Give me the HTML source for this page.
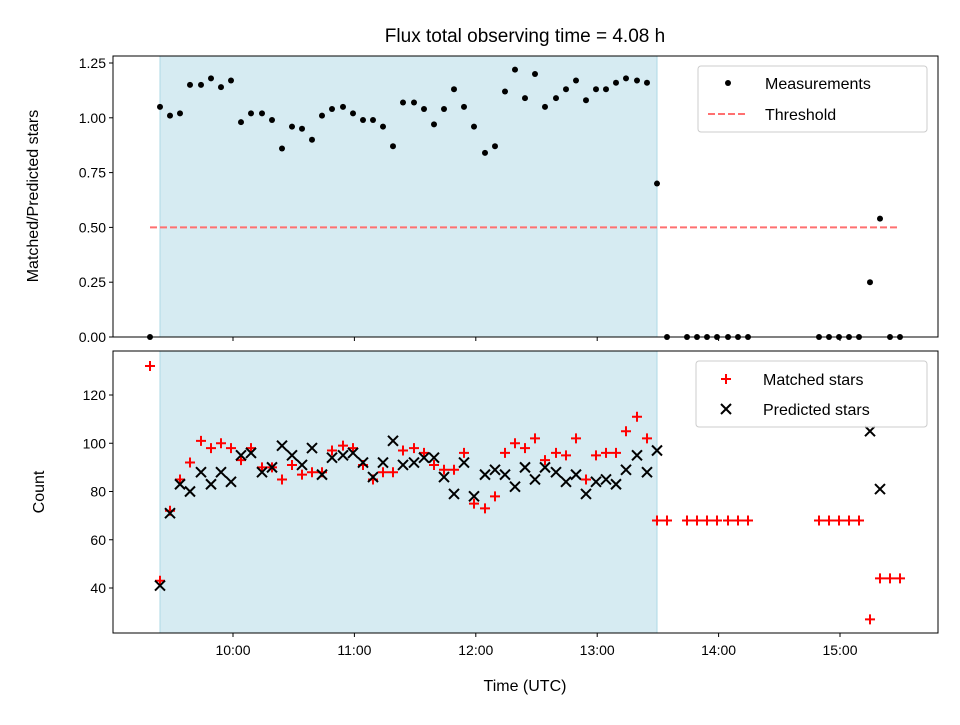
<!DOCTYPE html>
<html><head><meta charset="utf-8"><style>
body{margin:0;background:#fff;}
svg text{font-family:"Liberation Sans","DejaVu Sans",sans-serif;fill:#000;}
</style></head><body>
<svg id="chart" width="960" height="720" xmlns="http://www.w3.org/2000/svg"></svg>
<script>
const xPix=[150,160,170,180,190,201,211,221,231,241,251,262,272,282,292,302,312,322,332,343,353,363,373,383,393,403,414,424,434,444,454,464,474,485,495,505,515,525,535,545,556,566,576,586,596,606,616,626,637,647,657,667,687,697,707,717,728,738,748,819,829,839,849,859,870,880,890,900];
const times=xPix.map(x=>10+(x-233)/121.4);
const ratio=[0,1.05,1.01,1.02,1.15,1.15,1.18,1.14,1.17,0.98,1.02,1.02,0.99,0.86,0.96,0.95,0.90,1.01,1.04,1.05,1.02,0.99,0.99,0.96,0.87,1.07,1.07,1.04,0.97,1.04,1.13,1.05,0.96,0.84,0.87,1.12,1.22,1.09,1.20,1.05,1.09,1.13,1.17,1.08,1.13,1.13,1.16,1.18,1.17,1.16,0.70,0,0,0,0,0,0,0,0,0,0,0,0,0,0.25,0.54,0,0];
const matched=[132,43,72,85,92,101,98,100,98,93,98,90,90,85,91,87,88,88,97,99,98,91,85,88,88,97,98,96,91,89,89,96,75,73,78,96,100,98,102,93,96,95,102,85,95,96,96,105,111,102,68,68,68,68,68,68,68,68,68,68,68,68,68,68,27,44,44,44];
const predicted=[null,41,71,83,80,88,83,88,84,95,96,88,90,99,95,91,98,87,94,95,96,92,86,92,101,91,92,94,94,86,79,92,78,87,89,87,82,90,85,90,88,84,87,79,84,85,83,89,95,88,97,null,null,null,null,null,null,null,null,null,null,null,null,null,105,81,null,null];
const xTicks=[10,11,12,13,14,15];
const xTickLabels=["10:00","11:00","12:00","13:00","14:00","15:00"];
const topTicks=[0,0.25,0.5,0.75,1.0,1.25];
const topTickLabels=["0.00","0.25","0.50","0.75","1.00","1.25"];
const botTicks=[40,60,80,100,120];
const shadeStart=10+(160-233)/121.4, shadeEnd=10+(657-233)/121.4;
const threshold=0.5, thrStart=times[0], thrEnd=times[times.length-1];

const NS="http://www.w3.org/2000/svg";
const svg=document.getElementById('chart');
function el(t,a,p){const e=document.createElementNS(NS,t);for(const k in a)e.setAttribute(k,a[k]);(p||svg).appendChild(e);return e;}
const X=h=>233+(h-10)*121.4;
const Yt=v=>337-v*219.2;
const Yb=v=>588-(v-40)*2.4125;
const L=113,R=938;

// top panel
let e=el('rect',{x:X(shadeStart),y:56,width:X(shadeEnd)-X(shadeStart),height:281,fill:'#add8e6','fill-opacity':0.5,stroke:'#add8e6'});

e=el('line',{x1:X(thrStart),x2:X(thrEnd),y1:Yt(threshold),y2:Yt(threshold),stroke:'#ff7070','stroke-width':2,'stroke-dasharray':'7,3'});

times.forEach((t,i)=>{const c=el('circle',{cx:X(t),cy:Yt(ratio[i]),r:3,fill:'#000'});
});
e=el('rect',{x:L,y:56,width:R-L,height:281,fill:'none',stroke:'#000','stroke-width':1});

topTicks.forEach((v,i)=>{el('line',{x1:L-4,x2:L,y1:Yt(v),y2:Yt(v),stroke:'#000'});
const t=el('text',{x:L-7,y:Yt(v)+5,'text-anchor':'end','font-size':14});t.textContent=topTickLabels[i];
});
xTicks.forEach(v=>el('line',{x1:X(v),x2:X(v),y1:337,y2:341,stroke:'#000'}));
e=el('text',{x:38,y:196,'text-anchor':'middle','font-size':16,transform:'rotate(-90 38 196)'});e.textContent='Matched/Predicted stars';

e=el('text',{x:525,y:42,'text-anchor':'middle','font-size':19});e.textContent='Flux total observing time = 4.08 h';

// top legend
let g=el('g',{});
el('rect',{x:698,y:66,width:229,height:66,rx:3,fill:'#fff','fill-opacity':0.8,stroke:'#ccc'},g);
el('circle',{cx:728,cy:83,r:3,fill:'#000'},g);
e=el('text',{x:765,y:89,'font-size':16},g);e.textContent='Measurements';
el('line',{x1:708,x2:748,y1:114,y2:114,stroke:'#ff7070','stroke-width':2,'stroke-dasharray':'7,3'},g);
e=el('text',{x:765,y:120,'font-size':16},g);e.textContent='Threshold';

// bottom panel
e=el('rect',{x:X(shadeStart),y:351,width:X(shadeEnd)-X(shadeStart),height:282,fill:'#add8e6','fill-opacity':0.5,stroke:'#add8e6'});

times.forEach((t,i)=>{const x=X(t),y=Yb(matched[i]);
const p=el('path',{d:`M${x-5},${y}H${x+5}M${x},${y-5}V${y+5}`,stroke:'red','stroke-width':2});

if(predicted[i]!=null){const yp=Yb(predicted[i]);
const q=el('path',{d:`M${x-5},${yp-5}L${x+5},${yp+5}M${x-5},${yp+5}L${x+5},${yp-5}`,stroke:'#000','stroke-width':2});
}});
e=el('rect',{x:L,y:351,width:R-L,height:282,fill:'none',stroke:'#000'});

botTicks.forEach(v=>{el('line',{x1:L-4,x2:L,y1:Yb(v),y2:Yb(v),stroke:'#000'});
const t=el('text',{x:L-7,y:Yb(v)+5,'text-anchor':'end','font-size':14});t.textContent=v;
});
xTicks.forEach((v,i)=>{el('line',{x1:X(v),x2:X(v),y1:633,y2:637,stroke:'#000'});
const t=el('text',{x:X(v),y:655,'text-anchor':'middle','font-size':14});t.textContent=xTickLabels[i];
});
e=el('text',{x:44,y:492,'text-anchor':'middle','font-size':16,transform:'rotate(-90 44 492)'});e.textContent='Count';

e=el('text',{x:525,y:691,'text-anchor':'middle','font-size':16});e.textContent='Time (UTC)';

g=el('g',{});
el('rect',{x:696,y:361,width:231,height:66,rx:3,fill:'#fff','fill-opacity':0.8,stroke:'#ccc'},g);
el('path',{d:'M721,379H731M726,374V384',stroke:'red','stroke-width':2},g);
e=el('text',{x:763,y:385,'font-size':16},g);e.textContent='Matched stars';
el('path',{d:'M721,404L731,414M721,414L731,404',stroke:'#000','stroke-width':2},g);
e=el('text',{x:763,y:415,'font-size':16},g);e.textContent='Predicted stars';
</script>
</body></html>
